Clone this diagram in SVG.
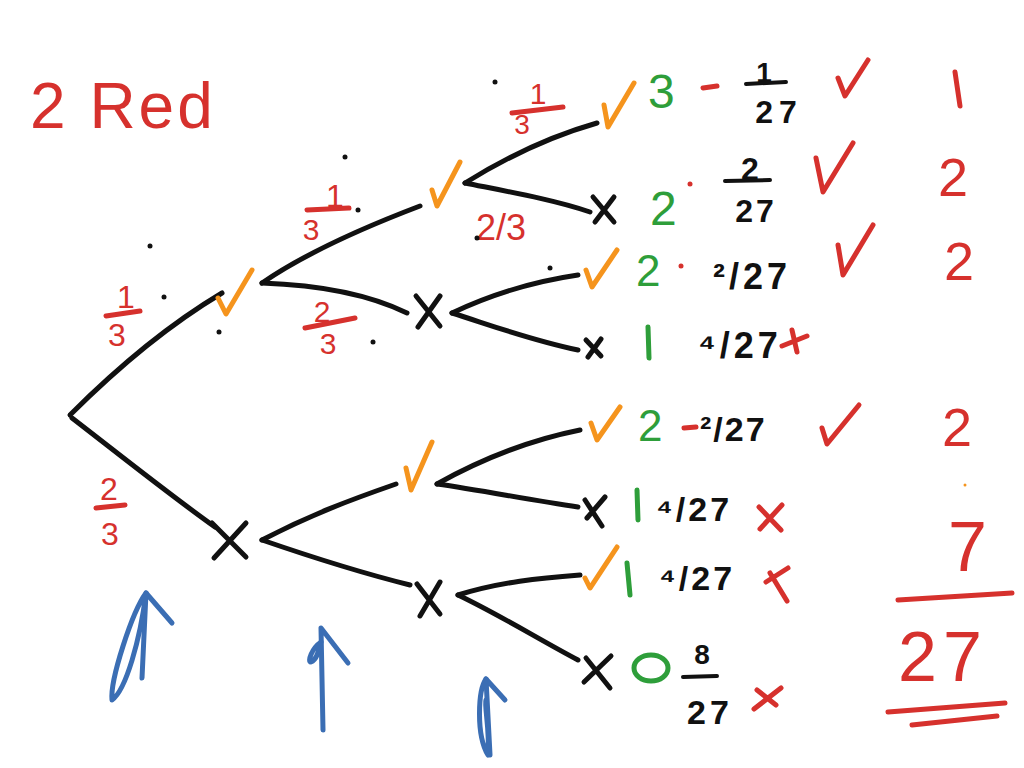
<svg xmlns="http://www.w3.org/2000/svg" width="1024" height="768" viewBox="0 0 1024 768">
<style>
.br{stroke:#111;stroke-width:5;fill:none;stroke-linecap:round;stroke-linejoin:round}
.ot{stroke:#f5941d;stroke-width:5;fill:none;stroke-linecap:round;stroke-linejoin:round}
.rs{stroke:#d6312d;stroke-width:5;fill:none;stroke-linecap:round;stroke-linejoin:round}
.bs{stroke:#111;stroke-width:4;fill:none;stroke-linecap:round}
.bl{stroke:#3b6eb4;stroke-width:5;fill:none;stroke-linecap:round;stroke-linejoin:round}
.gs{stroke:#2e9e3a;stroke-width:5;fill:none;stroke-linecap:round}
text{font-family:"Liberation Sans","DejaVu Sans",sans-serif}
.r{fill:#d6312d}
.g{fill:#2e9e3a}
.k{fill:#111;font-weight:bold}
.dot{fill:#111}
</style>
<rect width="1024" height="768" fill="#fff"/>

<text class="r" x="30" y="128" font-size="64" letter-spacing="3">2 Red</text>

<g id="connectors">
  <path class="br" d="M70,415 C110,375 160,330 222,293"/>
  <path class="br" d="M72,418 C120,455 170,495 215,527"/>
  <path class="br" d="M262,283 C310,250 370,225 420,206"/>
  <path class="br" d="M262,283 C320,285 370,295 407,313"/>
  <path class="br" d="M465,183 C510,155 555,135 597,123"/>
  <path class="br" d="M465,183 C510,192 555,200 590,212"/>
  <path class="br" d="M452,313 C490,295 530,282 578,275"/>
  <path class="br" d="M452,313 C490,325 530,340 578,350"/>
  <path class="br" d="M262,540 C310,515 350,500 396,484"/>
  <path class="br" d="M262,540 C320,560 370,575 410,585"/>
  <path class="br" d="M437,484 C480,460 530,440 580,430"/>
  <path class="br" d="M437,484 C480,490 530,500 578,507"/>
  <path class="br" d="M458,595 C500,582 540,578 580,575"/>
  <path class="br" d="M458,595 C500,615 540,640 578,660"/>
</g>

<g id="root"><circle cx="70" cy="415" r="2" class="dot"/></g>
<g id="n1-tick"><path class="ot" d="M218,298 L226,314 L252,270"/></g>
<g id="n1-x"><path class="br" d="M212,523 L246,557 M246,523 L214,558"/></g>
<g id="n2-tick"><path class="ot" d="M432,190 L437,206 L460,162"/></g>
<g id="n2-x"><path class="br" d="M416,296 L440,326 M440,296 L418,327"/></g>
<g id="n3-tick"><path class="ot" d="M406,468 L411,490 L432,442"/></g>
<g id="n3-x"><path class="br" d="M417,584 L440,614 M440,582 L420,616"/></g>

<g id="leaf1">
  <path class="ot" d="M604,105 L608,127 L634,83"/>
  <text class="g" x="648" y="108" font-size="48">3</text>
  <path class="rs" d="M703,88 L717,86"/>
  <text class="k" x="764" y="82" font-size="28" text-anchor="middle">1</text>
  <path class="bs" d="M746,84 L786,82"/>
  <text class="k" x="779" y="123" font-size="32" text-anchor="middle" letter-spacing="6">27</text>
  <path class="rs" d="M838,78 L845,96 L868,60"/>
  <path class="rs" d="M955,72 L960,106"/>
</g>
<g id="leaf2">
  <path class="br" d="M593,197 L614,222 M614,197 L595,222"/>
  <text class="g" x="650" y="225" font-size="48">2</text>
  <circle cx="690" cy="184" r="2.5" class="r"/>
  <text class="k" x="750" y="180" font-size="32" text-anchor="middle">2</text>
  <path class="bs" d="M725,181 L770,180"/>
  <text class="k" x="756" y="222" font-size="32" text-anchor="middle" letter-spacing="3">27</text>
  <path class="rs" d="M816,158 L823,192 L853,143"/>
  <text class="r" x="938" y="196" font-size="54">2</text>
</g>
<g id="leaf3">
  <path class="ot" d="M586,270 L592,287 L617,250"/>
  <text class="g" x="636" y="286" font-size="44">2</text>
  <circle cx="681" cy="266" r="2.5" class="r"/>
  <text class="k" x="713" y="289" font-size="36" letter-spacing="4">²/27</text>
  <path class="rs" d="M838,245 L843,275 L873,225"/>
  <text class="r" x="944" y="280" font-size="54">2</text>
</g>
<g id="leaf4">
  <path class="br" d="M586,340 L601,356 M601,339 L588,357"/>
  <path class="gs" d="M648,327 L649,358"/>
  <text class="k" x="698" y="358" font-size="36" letter-spacing="4">⁴/27</text>
  <path class="rs" d="M782,346 L807,336 M792,330 L797,352"/>
</g>
<g id="leaf5">
  <path class="ot" d="M591,423 L597,440 L620,407"/>
  <text class="g" x="638" y="441" font-size="44">2</text>
  <path class="rs" d="M684,428 L696,427"/>
  <text class="k" x="700" y="441" font-size="34" letter-spacing="2">²/27</text>
  <path class="rs" d="M822,428 L827,444 L859,405"/>
  <text class="r" x="942" y="446" font-size="54">2</text>
</g>
<g id="leaf6">
  <path class="br" d="M585,500 L602,526 M605,497 L587,518"/>
  <path class="gs" d="M637,490 L638,520"/>
  <text class="k" x="656" y="521" font-size="34" letter-spacing="3">⁴/27</text>
  <path class="rs" d="M759,507 L781,530 M782,505 L760,529"/>
</g>
<g id="leaf7">
  <path class="ot" d="M585,578 L590,588 L617,547"/>
  <path class="gs" d="M627,563 L630,595"/>
  <text class="k" x="659" y="590" font-size="34" letter-spacing="3">⁴/27</text>
  <path class="rs" d="M766,582 L788,568 M770,573 L787,601"/>
</g>
<g id="leaf8">
  <path class="br" d="M586,658 L610,688 M611,656 L584,682"/>
  <ellipse cx="651" cy="668" rx="17" ry="13" class="gs"/>
  <text class="k" x="702" y="664" font-size="28" text-anchor="middle">8</text>
  <path class="bs" d="M683,677 L717,676"/>
  <text class="k" x="710" y="724" font-size="34" text-anchor="middle" letter-spacing="4">27</text>
  <path class="rs" d="M754,709 L781,688 M757,690 L776,705"/>
</g>

<g id="total">
  <text class="r" x="948" y="571" font-size="70">7</text>
  <path class="rs" d="M898,600 L1012,593"/>
  <text class="r" x="898" y="681" font-size="70" letter-spacing="6">27</text>
  <path class="rs" d="M888,712 L1005,703 M912,725 L997,716"/>
  <circle cx="965" cy="485" r="1.5" fill="#f5941d"/>
</g>

<g id="labels">
  <text class="r" x="126" y="308" font-size="32" text-anchor="middle">1</text>
  <path class="rs" d="M106,316 L140,311"/>
  <text class="r" x="117" y="346" font-size="32" text-anchor="middle">3</text>
  <text class="r" x="109" y="500" font-size="32" text-anchor="middle">2</text>
  <path class="rs" d="M96,508 L125,505"/>
  <text class="r" x="110" y="545" font-size="32" text-anchor="middle">3</text>
  <text class="r" x="335" y="207" font-size="32" text-anchor="middle">1</text>
  <path class="rs" d="M307,210 L349,208"/>
  <text class="r" x="311" y="240" font-size="30" text-anchor="middle">3</text>
  <text class="r" x="322" y="322" font-size="30" text-anchor="middle">2</text>
  <path class="rs" d="M305,328 L355,318"/>
  <text class="r" x="328" y="354" font-size="30" text-anchor="middle">3</text>
  <text class="r" x="538" y="104" font-size="30" text-anchor="middle">1</text>
  <path class="rs" d="M512,113 L563,107"/>
  <text class="r" x="522" y="134" font-size="28" text-anchor="middle">3</text>
  <text class="r" x="476" y="240" font-size="36">2/3</text>
  <circle cx="150" cy="246" r="2.5" class="dot"/>
  <circle cx="164" cy="297" r="2.5" class="dot"/>
  <circle cx="219" cy="332" r="2.5" class="dot"/>
  <circle cx="345" cy="157" r="2.5" class="dot"/>
  <circle cx="358" cy="210" r="2.5" class="dot"/>
  <circle cx="373" cy="342" r="2.5" class="dot"/>
  <circle cx="477" cy="238" r="2.5" class="dot"/>
  <circle cx="495" cy="82" r="2.5" class="dot"/>
  <circle cx="550" cy="268" r="2.5" class="dot"/>
</g>

<g id="arrows">
  <path class="bl" d="M142,678 L146,593 L172,623"/>
  <path class="bl" d="M146,593 C132,612 110,680 112,700 C126,690 140,640 146,593"/>
  <path class="bl" d="M323,730 L321,628 L348,663"/>
  <path class="bl" d="M321,642 C312,648 307,662 311,662 C317,660 319,650 321,642"/>
  <path class="bl" d="M490,755 L486,679 L505,700"/>
  <path class="bl" d="M486,679 C478,690 476,735 488,755 C490,730 484,705 486,700"/>
</g>
</svg>
